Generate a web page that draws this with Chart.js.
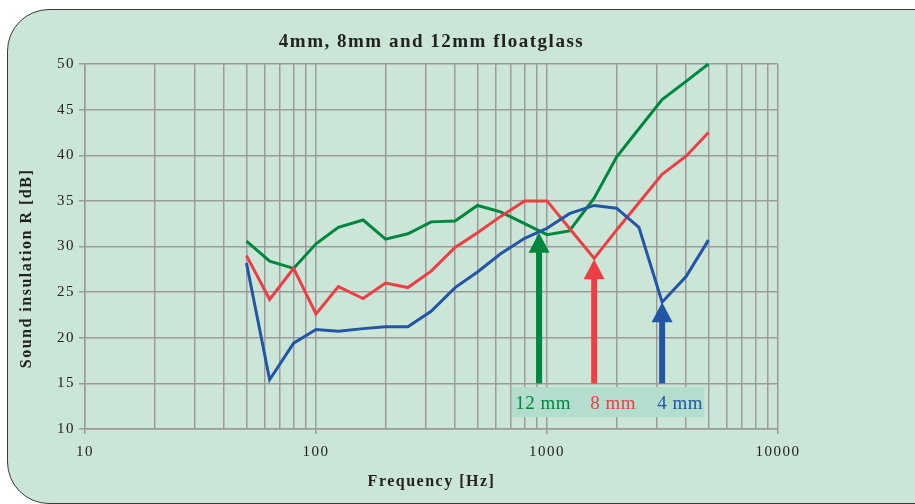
<!DOCTYPE html>
<html>
<head>
<meta charset="utf-8">
<script src="https://cdn.jsdelivr.net/npm/chart.js@4"></script>
<style>
  body { margin: 0; background: #fff; }
  #wrap { position: relative; width: 915px; height: 504px; overflow: hidden; }
  #panel { position: absolute; left: 7px; top: 9px; width: 1000px; height: 493px;
           border: 1px solid #3a3a3a; border-radius: 42px; background: #cbe6d7; }
  canvas { position: absolute; left: 0; top: 0; }
</style>
</head>
<body>
<div id="wrap">
  <div id="panel"></div>
  <canvas id="glassChart" width="915" height="504"></canvas>
</div>
<script>
// third-octave band centre frequencies [Hz]
const freqs = [50, 63, 80, 100, 125, 160, 200, 250, 315, 400, 500, 630, 800, 1000, 1250, 1600, 2000, 2500, 3150, 4000, 5000];
// sound insulation R [dB]
const glass12 = [30.6, 28.4, 27.6, 30.3, 32.1, 32.9, 30.8, 31.4, 32.7, 32.8, 34.5, 33.8, 32.5, 31.3, 31.7, 35.3, 39.8, 42.9, 46.1, 48.1, 50.0];
const glass8 = [29.0, 24.2, 27.6, 22.6, 25.6, 24.3, 26.0, 25.5, 27.3, 29.9, 31.5, 33.3, 35.0, 35.0, 32.0, 28.7, 31.8, 34.8, 37.9, 39.9, 42.5];
const glass4 = [28.2, 15.4, 19.4, 20.9, 20.7, 21.0, 21.2, 21.2, 22.9, 25.5, 27.2, 29.2, 30.9, 32.0, 33.6, 34.5, 34.2, 32.1, 23.9, 26.7, 30.7];

// coincidence dips marked with arrows
const arrowLabels = ['12 mm', '8 mm', '4 mm'];
const arrowFreqs = [924, 1600, 3150];
const arrowTips = [31.5, 28.6, 23.9];
const arrowBase = 15;
const labelFreqs = [728, 1538, 3000];

const green = '#00873f';
const red = '#ef3d46';
const blue = '#2355a6';
const arrowColors = [green, red, blue];

// log grid 10, 20, ... 90, 100, 200 ... 10000
const xTicks = [];
[10, 100, 1000].forEach(function(d) {
  for (let i = 1; i < 10; i++) xTicks.push(d * i);
});
xTicks.push(10000);

function isDecade(v) {
  return [10, 100, 1000, 10000].indexOf(v) >= 0;
}

const serif = 'Liberation Serif, Times New Roman, serif';

const spacing = {
  id: 'spacing',
  beforeUpdate(chart) { chart.ctx.letterSpacing = '1.5px'; },
  beforeDraw(chart) { chart.ctx.letterSpacing = '1.5px'; }
};

const annotate = {
  id: 'annotate',
  afterDatasetsDraw(chart) {
    const ctx = chart.ctx;
    const x = chart.scales.x;
    const y = chart.scales.y;
    ctx.save();

    // label box
    ctx.fillStyle = '#b3ddcc';
    const bx1 = x.getPixelForValue(706);
    const bx2 = x.getPixelForValue(4800);
    const by1 = y.getPixelForValue(14.6);
    const by2 = y.getPixelForValue(11.3);
    ctx.fillRect(bx1, by1, bx2 - bx1, by2 - by1);

    // arrows
    arrowFreqs.forEach(function(f, i) {
      const px = x.getPixelForValue(f);
      const top = y.getPixelForValue(arrowTips[i]);
      const base = y.getPixelForValue(arrowBase);
      ctx.fillStyle = arrowColors[i];
      ctx.fillRect(px - 3, top + 18, 6, base - top - 18);
      ctx.beginPath();
      ctx.moveTo(px, top);
      ctx.lineTo(px + 10.5, top + 20);
      ctx.lineTo(px - 10.5, top + 20);
      ctx.closePath();
      ctx.fill();
    });

    // labels
    ctx.letterSpacing = '0.5px';
    ctx.font = '19px ' + serif;
    ctx.textBaseline = 'alphabetic';
    ctx.textAlign = 'left';
    arrowLabels.forEach(function(t, i) {
      ctx.fillStyle = arrowColors[i];
      ctx.fillText(t, x.getPixelForValue(labelFreqs[i]), y.getPixelForValue(12.2));
    });

    // y axis title
    ctx.letterSpacing = '1.5px';
    ctx.fillStyle = '#222';
    ctx.font = 'bold 16px ' + serif;
    ctx.textAlign = 'center';
    ctx.textBaseline = 'middle';
    ctx.translate(27, (chart.chartArea.top + chart.chartArea.bottom) / 2 + 22);
    ctx.rotate(-Math.PI / 2);
    ctx.fillText('Sound insulation R [dB]', 0, 0);
    ctx.restore();
  }
};

function line(label, data, color) {
  return {
    label: label,
    data: freqs.map(function(f, i) { return {x: f, y: data[i]}; }),
    borderColor: color,
    borderWidth: 3,
    pointRadius: 0,
    tension: 0,
    fill: false,
    clip: false
  };
}

const ctx = document.getElementById('glassChart').getContext('2d');
new Chart(ctx, {
  type: 'line',
  data: {
    datasets: [
      line('4 mm', glass4, blue),
      line('8 mm', glass8, red),
      line('12 mm', glass12, green)
    ]
  },
  options: {
    responsive: false,
    animation: false,
    layout: { padding: { left: 0, right: 137, top: 0, bottom: 0 } },
    plugins: {
      legend: { display: false },
      tooltip: { enabled: false },
      title: {
        display: true,
        fullSize: false,
        text: '4mm, 8mm and 12mm floatglass',
        color: '#222',
        font: { family: serif, size: 19, weight: 'bold' },
        padding: { top: 30.6, bottom: 10.6 }
      }
    },
    scales: {
      x: {
        type: 'logarithmic',
        min: 10,
        max: 10000,
        afterBuildTicks: function(scale) {
          scale.ticks = xTicks.map(function(v) { return {value: v, major: isDecade(v)}; });
        },
        afterFit: function(scale) { scale.height = 75; },
        ticks: {
          autoSkip: false,
          maxRotation: 0,
          padding: 9,
          color: '#222',
          font: { family: serif, size: 15 },
          callback: function(v) { return isDecade(v) ? String(v) : ''; }
        },
        grid: {
          color: '#9b9b9b',
          lineWidth: 1.5,
          tickLength: 5,
          tickColor: function(c) { return c.tick && isDecade(c.tick.value) ? '#9b9b9b' : 'rgba(0,0,0,0)'; }
        },
        border: { color: '#9b9b9b', width: 1.5 },
        title: {
          display: true,
          text: 'Frequency [Hz]',
          color: '#222',
          font: { family: serif, size: 16, weight: 'bold' },
          padding: { top: 0, bottom: 13 }
        }
      },
      y: {
        min: 10,
        max: 50,
        afterFit: function(scale) { scale.width = 85; },
        ticks: {
          stepSize: 5,
          padding: 4,
          color: '#222',
          font: { family: serif, size: 15 }
        },
        grid: { color: '#9b9b9b', lineWidth: 1.5, tickLength: 6 },
        border: { color: '#9b9b9b', width: 1.5 }
      }
    }
  },
  plugins: [spacing, annotate]
});
</script>
</body>
</html>
